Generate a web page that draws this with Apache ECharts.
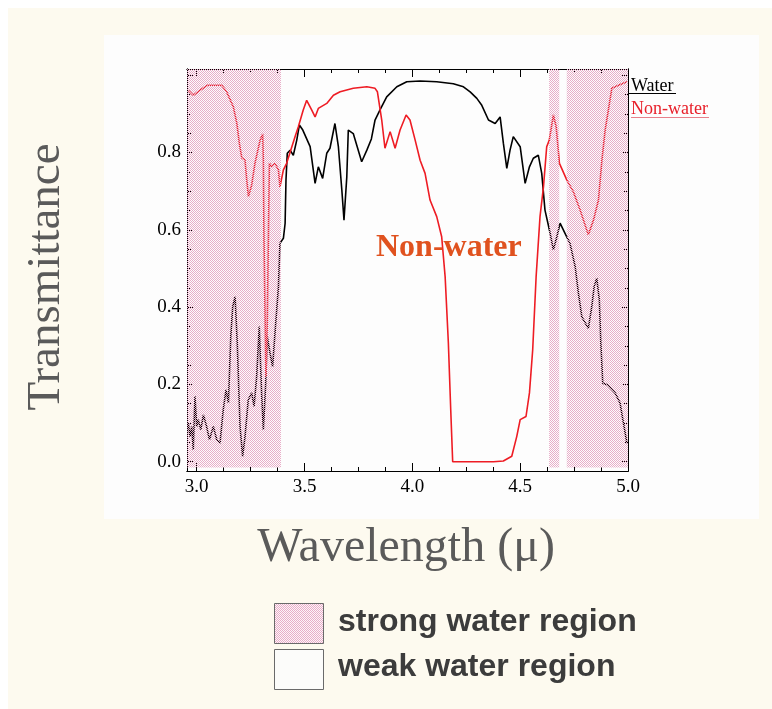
<!DOCTYPE html>
<html>
<head>
<meta charset="utf-8">
<script src="https://cdn.jsdelivr.net/npm/echarts@6/dist/echarts.min.js"></script>
<style>
html,body{margin:0;padding:0;background:#ffffff;}
#chart{width:772px;height:709px;}
</style>
</head>
<body>
<div id="chart"></div>
<script>
// ---- data ----
const waterX = [2.961,2.969,2.977,2.984,2.992,3.0,3.007,3.019,3.031,3.046,3.059,3.077,3.093,3.108,3.123,3.136,3.147,3.158,3.167,3.178,3.188,3.201,3.213,3.224,3.239,3.255,3.266,3.278,3.29,3.301,3.309,3.32,3.327,3.34,3.352,3.363,3.379,3.386,3.402,3.41,3.414,3.42,3.433,3.448,3.464,3.476,3.492,3.526,3.549,3.564,3.584,3.603,3.618,3.641,3.657,3.673,3.683,3.696,3.703,3.726,3.765,3.789,3.81,3.827,3.85,3.881,3.928,3.974,4.036,4.113,4.19,4.237,4.268,4.299,4.322,4.353,4.384,4.407,4.422,4.438,4.453,4.468,4.5,4.523,4.543,4.561,4.584,4.6,4.615,4.639,4.654,4.67,4.685,4.708,4.731,4.755,4.77,4.786,4.816,4.832,4.843,4.855,4.867,4.874,4.883,4.904,4.94,4.963,4.979,4.995];
const waterY = [0.10,0.065,0.091,0.031,0.169,0.091,0.109,0.083,0.121,0.091,0.057,0.091,0.057,0.048,0.134,0.186,0.152,0.324,0.401,0.427,0.307,0.091,0.014,0.065,0.16,0.178,0.143,0.22,0.35,0.178,0.083,0.203,0.324,0.281,0.246,0.333,0.453,0.565,0.578,0.617,0.729,0.798,0.806,0.793,0.832,0.871,0.858,0.815,0.72,0.763,0.733,0.798,0.811,0.875,0.815,0.703,0.625,0.737,0.858,0.849,0.776,0.806,0.835,0.884,0.91,0.944,0.97,0.983,0.985,0.983,0.978,0.97,0.957,0.94,0.922,0.884,0.875,0.892,0.824,0.759,0.806,0.841,0.815,0.72,0.763,0.785,0.793,0.746,0.651,0.591,0.548,0.582,0.617,0.591,0.565,0.505,0.436,0.375,0.345,0.401,0.453,0.475,0.419,0.307,0.203,0.199,0.178,0.152,0.10,0.048];

const nonWaterX = [2.961,2.984,3.015,3.05,3.116,3.139,3.17,3.186,3.198,3.209,3.224,3.232,3.24,3.255,3.27,3.294,3.306,3.309,3.312,3.321,3.327,3.337,3.348,3.363,3.379,3.386,3.402,3.417,3.456,3.471,3.494,3.51,3.533,3.549,3.564,3.603,3.634,3.665,3.726,3.789,3.827,3.838,3.858,3.873,3.897,3.92,3.943,3.971,3.989,4.013,4.036,4.059,4.082,4.113,4.136,4.152,4.167,4.178,4.187,4.376,4.422,4.461,4.484,4.5,4.527,4.543,4.558,4.574,4.592,4.608,4.623,4.635,4.654,4.667,4.682,4.716,4.747,4.778,4.816,4.84,4.863,4.879,4.894,4.909,4.925,4.956,4.995];
const nonWaterY = [0.961,0.948,0.961,0.974,0.974,0.957,0.918,0.876,0.823,0.786,0.78,0.729,0.686,0.716,0.772,0.832,0.848,0.78,0.574,0.22,0.35,0.772,0.763,0.772,0.755,0.711,0.755,0.772,0.841,0.866,0.91,0.935,0.91,0.892,0.914,0.927,0.948,0.957,0.966,0.97,0.966,0.957,0.884,0.811,0.854,0.811,0.858,0.897,0.884,0.832,0.78,0.746,0.677,0.634,0.582,0.479,0.307,0.134,0.0,0.0,0.002,0.014,0.065,0.109,0.117,0.178,0.289,0.479,0.634,0.711,0.815,0.832,0.897,0.866,0.772,0.729,0.698,0.651,0.587,0.625,0.677,0.78,0.858,0.91,0.966,0.974,0.983];

// strong water regions [start, end] in wavelength
const strongRegions = [[2.955, 3.391], [4.634, 4.681], [4.716, 5.0]];

// ticks / labels
const xMajorTicks = [3.0, 3.5, 4.0, 4.5, 5.0];
const xMinorTicks = [3.125,3.25,3.375,3.625,3.75,3.875,4.125,4.25,4.375,4.625,4.75,4.875];
const yMajorTicks = [0, 0.2, 0.4, 0.6, 0.8, 1.0];
const yMinorTicks = [0.05,0.1,0.15,0.25,0.3,0.35,0.45,0.5,0.55,0.65,0.7,0.75,0.85,0.9,0.95];
const yLabels = [0, 0.2, 0.4, 0.6, 0.8];

const xMin = 2.955, xMax = 5.0, yMin = -0.024, yMax = 1.016;

// ---- pattern ----
function makePattern(bg) {
  const c = document.createElement('canvas');
  c.width = 2; c.height = 2;
  const ctx = c.getContext('2d');
  if (bg) { ctx.fillStyle = bg; ctx.fillRect(0,0,2,2); }
  ctx.fillStyle = '#e8adc8';
  ctx.fillRect(0,0,1,1);
  ctx.fillRect(1,1,1,1);
  return c;
}
const patTransparent = makePattern(null);
const patWhite = makePattern('#fdf6f9');

const chart = echarts.init(document.getElementById('chart'), null, {renderer: 'canvas', devicePixelRatio: 1});

const serif = '"Liberation Serif", "Times New Roman", serif';
const gridCfg = {left: 187, top: 69, width: 441, height: 402};

function xAx(pos, ticks, len, labels) {
  return {
    type: 'value', position: pos, min: xMin, max: xMax, gridIndex: 0,
    axisLine: {show: true, onZero: false, lineStyle: {color: '#000', width: 1}},
    axisTick: {show: true, inside: true, length: len, customValues: ticks, lineStyle: {color: '#000', width: 1}},
    axisLabel: labels ? {show: true, customValues: labels, formatter: v => v.toFixed(1), color: '#000', fontFamily: serif, fontSize: 19, margin: 7} : {show: false},
    splitLine: {show: false}
  };
}
function yAx(pos, ticks, len, labels) {
  return {
    type: 'value', position: pos, min: yMin, max: yMax, gridIndex: 0,
    axisLine: {show: true, onZero: false, lineStyle: {color: '#000', width: 1}},
    axisTick: {show: true, inside: true, length: len, customValues: ticks, lineStyle: {color: '#000', width: 1}},
    axisLabel: labels ? {show: true, customValues: labels, formatter: v => v.toFixed(1), color: '#000', fontFamily: serif, fontSize: 19, margin: 6} : {show: false},
    splitLine: {show: false}
  };
}

const option = {
  backgroundColor: '#ffffff',
  animation: false,
  grid: gridCfg,
  xAxis: [
    xAx('bottom', xMajorTicks, 8, xMajorTicks),
    xAx('bottom', xMinorTicks, 4, null),
    xAx('top', xMajorTicks, 8, null),
    xAx('top', xMinorTicks, 4, null)
  ],
  yAxis: [
    yAx('left', yMajorTicks, 6, yLabels),
    yAx('left', yMinorTicks, 4, null),
    yAx('right', yMajorTicks, 6, null),
    yAx('right', yMinorTicks, 4, null)
  ],
  graphic: [
    {type: 'rect', z: -10, silent: true, shape: {x: 8, y: 8, width: 764, height: 701}, style: {fill: '#fdfaef'}},
    {type: 'rect', z: -9, silent: true, shape: {x: 104, y: 35, width: 655, height: 484}, style: {fill: '#fdfdfd'}},
    {type: 'text', x: 376, y: 248, z: 10, style: {text: 'Non-water', font: 'bold 32px ' + serif, fill: '#e0521f', textAlign: 'left', textVerticalAlign: 'middle'}},
    {type: 'text', x: 631, y: 86, z: 10, style: {text: 'Water', font: '18px ' + serif, fill: '#000', textAlign: 'left', textVerticalAlign: 'middle'}},
    {type: 'line', z: 10, shape: {x1: 629, y1: 93.5, x2: 676, y2: 93.5}, style: {stroke: '#000', lineWidth: 1}},
    {type: 'text', x: 631, y: 109, z: 10, style: {text: 'Non-water', font: '18px ' + serif, fill: '#e8202a', textAlign: 'left', textVerticalAlign: 'middle'}},
    {type: 'line', z: 10, shape: {x1: 631, y1: 117.5, x2: 709, y2: 117.5}, style: {stroke: '#e8808a', lineWidth: 1}},
    {type: 'text', x: 47, y: 277, rotation: Math.PI / 2, z: 10, style: {text: 'Transmittance', font: '47px ' + serif, fill: '#5a5a5a', textAlign: 'center', textVerticalAlign: 'middle'}},
    {type: 'text', x: 406, y: 548, z: 10, style: {text: 'Wavelength (\u03bc)', font: '48px ' + serif, fill: '#5a5a5a', textAlign: 'center', textVerticalAlign: 'middle'}},
    {type: 'rect', z: 10, shape: {x: 274.5, y: 603.5, width: 49, height: 40}, style: {fill: {image: patWhite, repeat: 'repeat'}, stroke: '#6a6a6a', lineWidth: 1}},
    {type: 'rect', z: 10, shape: {x: 274.5, y: 649.5, width: 49, height: 40}, style: {fill: '#fcfcfa', stroke: '#6a6a6a', lineWidth: 1}},
    {type: 'text', x: 338, y: 622, z: 10, style: {text: 'strong water region', font: 'bold 32px "Liberation Sans", Arial, sans-serif', fill: '#3c3c3c', textAlign: 'left', textVerticalAlign: 'middle'}},
    {type: 'text', x: 338, y: 667, z: 10, style: {text: 'weak water region', font: 'bold 32px "Liberation Sans", Arial, sans-serif', fill: '#3c3c3c', textAlign: 'left', textVerticalAlign: 'middle'}}
  ],
  series: [
    {
      name: 'Water', type: 'line', xAxisIndex: 0, yAxisIndex: 0, z: 2,
      data: waterX.map((x, i) => [x, waterY[i]]),
      symbol: 'none', lineStyle: {color: '#000000', width: 1.6}
    },
    {
      name: 'Non-water', type: 'line', xAxisIndex: 0, yAxisIndex: 0, z: 2,
      data: nonWaterX.map((x, i) => [x, nonWaterY[i]]),
      symbol: 'none', lineStyle: {color: '#ee1c24', width: 1.6}
    },
    {
      name: 'strong', type: 'line', xAxisIndex: 0, yAxisIndex: 0, z: 5,
      data: [], symbol: 'none',
      markArea: {
        silent: true, z: 10,
        itemStyle: {color: {image: patTransparent, repeat: 'repeat'}, opacity: 1},
        data: strongRegions.map(r => [{xAxis: r[0], yAxis: -0.015}, {xAxis: r[1], yAxis: yMax}])
      }
    }
  ]
};
chart.setOption(option);
</script>
</body>
</html>
